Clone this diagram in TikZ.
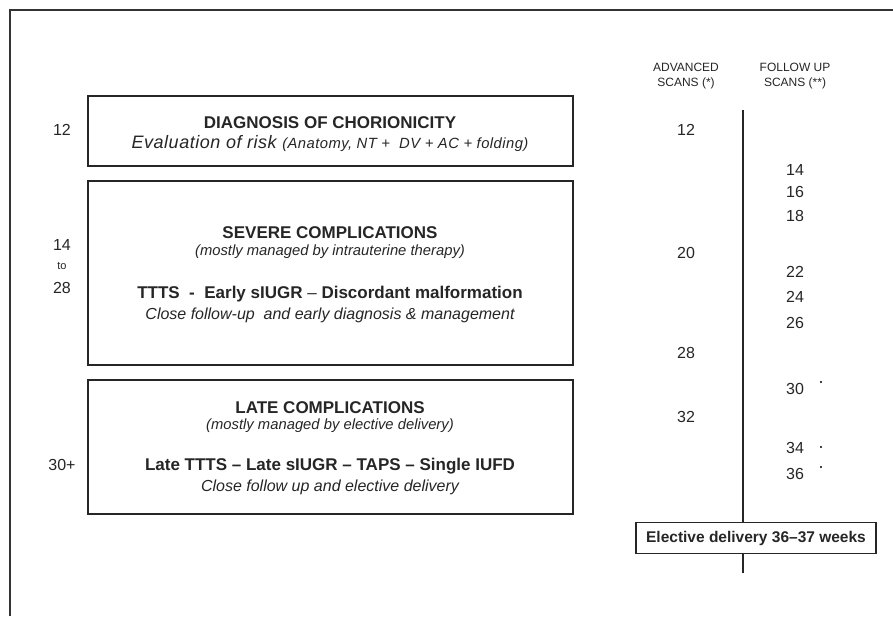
\documentclass[tikz,border=0pt]{standalone}
\usepackage{fontspec}
\setmainfont{Liberation Sans}
\begin{document}
\begin{tikzpicture}[x=1pt,y=-1pt,
  frame/.style={line width=1.6pt,draw=black!80},
  box/.style={draw=black!85,line width=1.2pt},
  num/.style={font=\fontsize{16}{18}\selectfont,text=black!85,inner sep=0pt},
  head/.style={font=\fontsize{17}{20}\selectfont\bfseries,text=black!85,inner sep=0pt},
  sub/.style={font=\fontsize{14.8}{16}\selectfont\itshape,text=black!85,inner sep=0pt},
  ital/.style={font=\fontsize{16}{18}\selectfont\itshape,text=black!85,inner sep=0pt},
  colhead/.style={font=\fontsize{12}{15}\selectfont,text=black!85,align=center,inner sep=0pt},
  dotmark/.style={circle,fill=black,inner sep=0pt,minimum size=2.2pt}]
\useasboundingbox (0,0) rectangle (893,616);
\fill[white] (0,0) rectangle (893,616);
% outer frame (top and left)
\coordinate (fbl) at (10,616);
\coordinate (ftl) at (10,10);
\coordinate (ftr) at (893,10);
\draw[frame] (fbl) -- (ftl) -- (ftr);

% boxes
\draw[box] (88,96) rectangle (573,166);
\draw[box] (88,181) rectangle (573,365);
\draw[box] (88,380) rectangle (573,514);

% left week labels
\node[num] (w12) at (62,130) {12};
\node[num] (w14) at (62,245) {14};
\node[font=\fontsize{11}{12}\selectfont,text=black!85,inner sep=0pt] (wto) at (62,266) {to};
\node[num] (w28) at (62,288) {28};
\node[num] (w30) at (62,465) {30+};

% box 1
\node[head] (b1h) at (330,123) {DIAGNOSIS OF CHORIONICITY};
\node[inner sep=0pt,text=black!85] (b1s) at (330,144) {\addfontfeature{LetterSpace=3}\fontsize{18}{20}\selectfont\itshape Evaluation of risk \fontsize{14.8}{17}\selectfont(Anatomy, NT +\ \ DV + AC + folding)};

% box 2
\node[head] (b2h) at (330,233) {SEVERE COMPLICATIONS};
\node[sub] (b2s) at (330,252) {(mostly managed by intrauterine therapy)};
\node[head] (b2l) at (330,294) {TTTS\ \ -\ \ Early sIUGR {\mdseries\char"2013} Discordant malformation};
\node[ital] (b2i) at (330,315) {Close follow-up\ \ and early diagnosis \& management};

% box 3
\node[head] (b3h) at (330,408) {LATE COMPLICATIONS};
\node[sub] (b3s) at (330,426) {(mostly managed by elective delivery)};
\node[head] (b3l) at (330,466) {Late TTTS \char"2013{} Late sIUGR \char"2013{} TAPS \char"2013{} Single IUFD};
\node[ital] (b3i) at (330,487) {Close follow up and elective delivery};

% column headers
\node[colhead] (ch1) at (686,76) {ADVANCED\\SCANS (*)};
\node[colhead] (ch2) at (795,76) {FOLLOW UP\\SCANS (**)};

% vertical line and delivery box
\coordinate (vtop) at (743,110);
\coordinate (vbot) at (743,573);
\draw[line width=1.2pt,draw=black!85] (vtop) -- (vbot);
\node[draw=black!85,line width=1.2pt,fill=white,font=\fontsize{15.5}{18}\selectfont\bfseries,text=black!85,
  minimum width=240pt,minimum height=31pt,inner sep=0pt] (deliv) at (756,538) {Elective delivery 36\char"2013 37 weeks};

% advanced scans
\node[num] (a12) at (686,130) {12};
\node[num] (a20) at (686,253) {20};
\node[num] (a28) at (686,353) {28};
\node[num] (a32) at (686,417) {32};

% follow up scans
\node[num] (f14) at (795,170) {14};
\node[num] (f16) at (795,192) {16};
\node[num] (f18) at (795,216) {18};
\node[num] (f22) at (795,272) {22};
\node[num] (f24) at (795,297) {24};
\node[num] (f26) at (795,323) {26};
\node[num] (f30) at (795,389) {30};
\node[num] (f34) at (795,448) {34};
\node[num] (f36) at (795,474) {36};
\node[dotmark] (d30) at (821,382) {};
\node[dotmark] (d34) at (821,447) {};
\node[dotmark] (d36) at (821,467) {};
\end{tikzpicture}
\end{document}
